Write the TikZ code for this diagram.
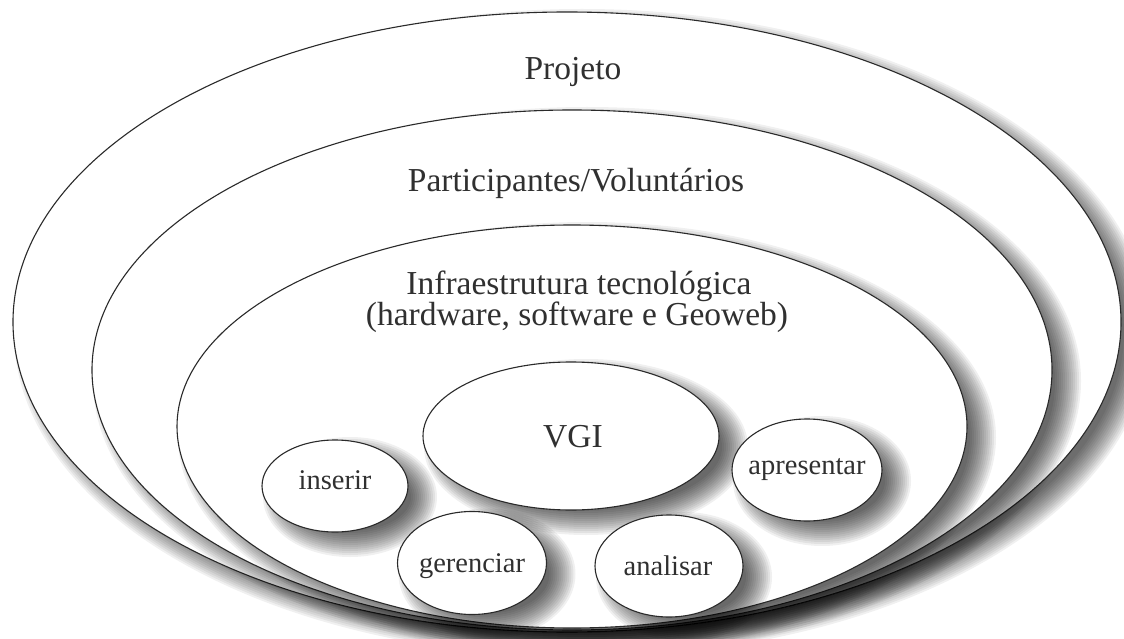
\documentclass[tikz,border=0pt]{standalone}
\usepackage{fontspec}
\setmainfont{Liberation Serif}
\usetikzlibrary{shapes.geometric}
\definecolor{linegray}{HTML}{2A2A2A}
\definecolor{txt}{HTML}{303030}
\newcommand\shadowring[4]{%
  \foreach \k in {0,...,13}{%
    \pgfmathsetmacro\rxx{#3-12+2*\k}%
    \pgfmathsetmacro\ryy{#4-12+2*\k}%
    \fill[shadowlayer] (#1+15,#2+11) ellipse [x radius=\rxx pt, y radius=\ryy pt];
  }}
\begin{document}
\begin{tikzpicture}[x=1pt,y=-1pt,
  shadowlayer/.style={fill=black, opacity=0.058},
  ring/.style={ellipse, draw=linegray, line width=1.1pt, fill=white, inner sep=0pt},
  heading/.style={font=\fontsize{33.5}{29}\selectfont, text=txt, anchor=base, inner sep=0pt},
  small/.style={font=\fontsize{28.5}{30}\selectfont, text=txt, anchor=base, inner sep=0pt}]
\useasboundingbox (0,0) rectangle (1124,639);
% containers
\shadowring{567}{322}{554}{310}
\node[ring, minimum width=1108pt, minimum height=620pt] (projeto) at (567,322) {};
\shadowring{572}{370}{480}{260}
\node[ring, minimum width=960pt, minimum height=520pt] (part) at (572,370) {};
\shadowring{572}{426.5}{395}{201.5}
\node[ring, minimum width=790pt, minimum height=403pt] (infra) at (572,426.5) {};
% inner bubbles
\shadowring{571}{436}{148}{74}
\shadowring{335}{486}{73}{46}
\shadowring{807}{470}{75}{51}
\shadowring{472}{563}{74.5}{51.5}
\shadowring{669}{566}{74}{51}
\node[ring, minimum width=296pt, minimum height=148pt] (vgi) at (571,436) {};
\node[ring, minimum width=146pt, minimum height=92pt] (inserir) at (335,486) {};
\node[ring, minimum width=150pt, minimum height=102pt] (apresentar) at (807,470) {};
\node[ring, minimum width=149pt, minimum height=103pt] (gerenciar) at (472,563) {};
\node[ring, minimum width=148pt, minimum height=102pt] (analisar) at (669,566) {};
% texts
\node[heading] (tprojeto) at (573,80) {Projeto};
\node[heading] (tpart) at (576,192) {Participantes/Voluntários};
\node[heading] (tinfra1) at (579,294) {Infraestrutura tecnológica};
\node[heading] (tinfra2) at (577,325) {(hardware, software e Geoweb)};
\node[heading] (tvgi) at (573,447) {VGI};
\node[small] (tinserir) at (335,489) {inserir};
\node[small] (tapresentar) at (807,474) {apresentar};
\node[small] (tgerenciar) at (472,572) {gerenciar};
\node[small] (tanalisar) at (668,575) {analisar};
\end{tikzpicture}
\end{document}
